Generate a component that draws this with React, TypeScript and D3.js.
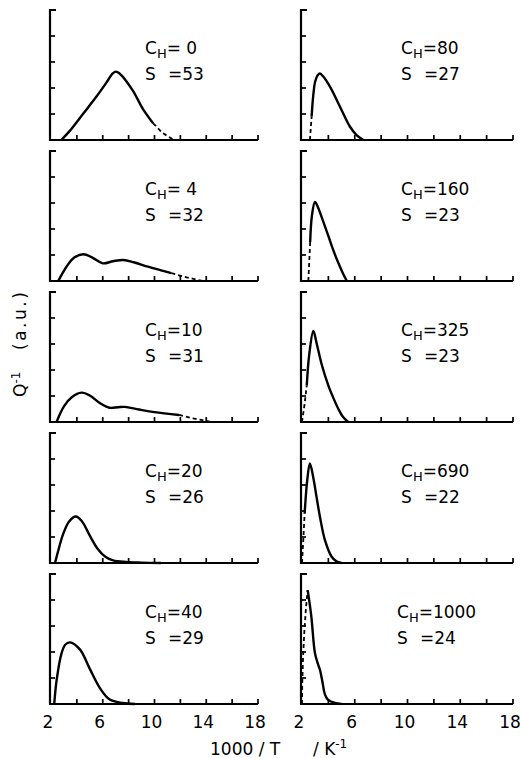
import React from "react";
import * as d3 from "d3";

type Pt = [number, number];

// ---- data (x = 1000/T in K^-1, y = Q^-1 in arbitrary units) ----
const hydrogenLabels = ["0", "4", "10", "20", "40", "80", "160", "325", "690", "1000"];
const sLabels = ["53", "32", "31", "26", "29", "27", "23", "23", "22", "24"];
const xTickValues = [2, 4, 6, 8, 10, 12, 14, 16, 18];
const xTickLabels = [2, 6, 10, 14, 18];
const yTickValues = [1, 2, 3, 4];

const ch0Solid: Pt[] = [[2.8, 0], [3.5, 0.38], [4.5, 1.02], [5.5, 1.66], [6.3, 2.22], [6.75, 2.55], [7.0, 2.63], [7.3, 2.56], [8.3, 1.92], [9.1, 1.2], [9.9, 0.64]];
const ch0Dashed: Pt[] = [[9.9, 0.64], [10.6, 0.28], [11.4, 0.03], [11.7, 0]];

const ch4Solid: Pt[] = [[2.56, 0], [3.2, 0.55], [3.8, 0.9], [4.5, 1.03], [5.2, 0.9], [6.0, 0.68], [6.8, 0.76], [7.6, 0.81], [8.4, 0.72], [9.5, 0.55], [10.5, 0.41], [11.3, 0.3]];
const ch4Dashed: Pt[] = [[11.3, 0.3], [12.5, 0.14], [13.7, 0]];

const ch10Solid: Pt[] = [[2.43, 0], [3.0, 0.6], [3.6, 0.95], [4.36, 1.13], [5.0, 1.02], [5.8, 0.72], [6.5, 0.55], [7.2, 0.57], [7.7, 0.58], [8.8, 0.48], [10.0, 0.38], [11.9, 0.27]];
const ch10Dashed: Pt[] = [[11.9, 0.27], [13.0, 0.14], [14.4, 0]];

const ch20Solid: Pt[] = [[2.31, 0], [2.6, 0.55], [2.95, 1.13], [3.4, 1.6], [3.92, 1.79], [4.4, 1.6], [5.0, 1.05], [5.6, 0.55], [6.2, 0.24], [6.8, 0.1], [7.8, 0.04], [9.0, 0.015], [10.5, 0]];
const ch20Dashed: Pt[] = [];

const ch40Solid: Pt[] = [[2.25, 0], [2.44, 0.94], [2.82, 1.96], [3.1, 2.28], [3.46, 2.37], [4.23, 2.1], [5.0, 1.35], [5.77, 0.62], [6.54, 0.17], [7.54, 0.04], [8.5, 0]];
const ch40Dashed: Pt[] = [];

const ch80Solid: Pt[] = [[2.73, 0.9], [2.85, 1.7], [3.0, 2.25], [3.2, 2.5], [3.36, 2.56], [3.6, 2.45], [4.12, 2.05], [4.88, 1.28], [5.64, 0.51], [6.14, 0.19], [6.65, 0]];
const ch80Dashed: Pt[] = [[2.6, 0], [2.73, 0.9]];

const ch160Solid: Pt[] = [[2.62, 1.5], [2.75, 2.5], [2.98, 3.04], [3.2, 2.85], [3.6, 2.3], [4.0, 1.73], [4.4, 1.15], [4.75, 0.7], [5.1, 0.3], [5.4, 0]];
const ch160Dashed: Pt[] = [[2.48, 0], [2.62, 1.5]];

const ch325Solid: Pt[] = [[2.36, 1.4], [2.55, 2.6], [2.86, 3.5], [3.1, 3.05], [3.5, 2.2], [4.0, 1.4], [4.4, 0.9], [4.76, 0.5], [5.1, 0.2], [5.5, 0]];
const ch325Dashed: Pt[] = [[2.0, 0], [2.2, 0.7], [2.36, 1.4]];

const ch690Solid: Pt[] = [[2.2, 1.9], [2.4, 3.2], [2.6, 3.83], [2.85, 3.3], [3.1, 2.55], [3.36, 1.78], [3.74, 0.88], [4.25, 0.24], [4.6, 0.07], [5.0, 0]];
const ch690Dashed: Pt[] = [[2.0, 0], [2.1, 0.9], [2.2, 1.9]];

const ch1000Solid: Pt[] = [[2.43, 4.38], [2.7, 3.4], [2.98, 1.96], [3.2, 1.55], [3.37, 1.3], [3.55, 0.85], [3.75, 0.35], [4.0, 0.15], [4.5, 0.04], [5.0, 0]];
const ch1000Dashed: Pt[] = [[2.0, 0], [2.02, 0.8], [2.08, 1.8], [2.18, 2.8], [2.3, 3.7], [2.43, 4.38]];

const solidSeries = [ch0Solid, ch4Solid, ch10Solid, ch20Solid, ch40Solid, ch80Solid, ch160Solid, ch325Solid, ch690Solid, ch1000Solid];
const dashedSeries = [ch0Dashed, ch4Dashed, ch10Dashed, ch20Dashed, ch40Dashed, ch80Dashed, ch160Dashed, ch325Dashed, ch690Dashed, ch1000Dashed];

// ---- layout ----
const W = 521;
const H = 758;
const columnRanges: [number, number][] = [[51, 258], [302, 513]];
const firstBottom = 140;
const panelStep = 141;
const panelHeight = 130;
const FONT = "'DejaVu Sans', sans-serif";

function Panel({ idx }: { idx: number }) {
  const col = idx < 5 ? 0 : 1;
  const row = idx % 5;
  const bottom = firstBottom + row * panelStep;
  const top = bottom - panelHeight;
  const x = d3.scaleLinear().domain([2, 18]).range(columnRanges[col]);
  const y = d3.scaleLinear().domain([0, 5]).range([bottom, top]);
  const solid = d3
    .line<Pt>()
    .x((d) => x(d[0]))
    .y((d) => Math.min(bottom, y(d[1])))
    .curve(d3.curveCatmullRom.alpha(0.5));
  const dashed = d3.line<Pt>().x((d) => x(d[0])).y((d) => y(d[1])).curve(d3.curveLinear);
  const x0 = x(2) - 1;
  const x1 = x(18);
  const lx = col === 0 ? 145 : idx === 9 ? 397 : 401;
  const ly = top + 44;
  return (
    <g>
      {/* axes */}
      <path d={`M${x0 + 6},${top} H${x0} V${bottom} H${x1}`} fill="none" stroke="#000" strokeWidth={2.2} />
      {yTickValues.map((t) => (
        <line key={"y" + t} x1={x0} x2={x0 + 5} y1={y(t)} y2={y(t)} stroke="#000" strokeWidth={1.7} />
      ))}
      {xTickValues.filter((t) => t > 2).map((t) => (
        <line key={"x" + t} x1={x(t)} x2={x(t)} y1={bottom} y2={bottom - 5} stroke="#000" strokeWidth={1.7} />
      ))}
      {/* curves */}
      <path d={solid(solidSeries[idx]) || ""} fill="none" stroke="#000" strokeWidth={2.4} strokeLinejoin="round" />
      {dashedSeries[idx].length > 1 && (
        <path d={dashed(dashedSeries[idx]) || ""} fill="none" stroke="#000" strokeWidth={1.8} strokeDasharray="4 3" />
      )}
      {/* labels */}
      <text x={lx} y={ly} fontFamily={FONT} fontSize={17} fill="#000">
        C
        <tspan dx={0} dy={4} fontSize={13}>H</tspan>
        <tspan dy={-4}>{"=" + (hydrogenLabels[idx].length === 1 ? " " : "") + hydrogenLabels[idx]}</tspan>
      </text>
      <text x={lx} y={ly + 26} fontFamily={FONT} fontSize={17} fill="#000">S</text>
      <text x={lx + 23} y={ly + 26} fontFamily={FONT} fontSize={17} fill="#000">{"=" + sLabels[idx]}</text>
    </g>
  );
}

export default function App() {
  const lastBottom = firstBottom + 4 * panelStep;
  const xs = columnRanges.map((r) => d3.scaleLinear().domain([2, 18]).range(r));
  return (
    <svg width={W} height={H} style={{ position: "absolute", left: 0, top: 0, background: "#fff" }}>
      <rect x={0} y={0} width={W} height={H} fill="#fff" />
      {hydrogenLabels.map((_, i) => (
        <Panel key={i} idx={i} />
      ))}
      {xs.map((sc, c) =>
        xTickLabels.map((v) => (
          <text key={c + "-" + v} x={sc(v) - 3} y={lastBottom + 24} textAnchor="middle" fontFamily={FONT} fontSize={17} fill="#000">
            {v}
          </text>
        ))
      )}
      <text x={210} y={755} fontFamily={FONT} fontSize={17} fill="#000">1000 / T</text>
      <text x={313} y={755} fontFamily={FONT} fontSize={17} fill="#000">
        / K<tspan dy={-7} fontSize={12}>-1</tspan>
      </text>
      <text transform="translate(26,397) rotate(-90)" fontFamily={FONT} fontSize={17} fill="#000">
        Q<tspan dy={-6} fontSize={12}>-1</tspan>
      </text>
      <text transform="translate(26,350) rotate(-90)" fontFamily={FONT} fontSize={17} letterSpacing={2.5} fill="#000">
        (a.u.)
      </text>
    </svg>
  );
}
